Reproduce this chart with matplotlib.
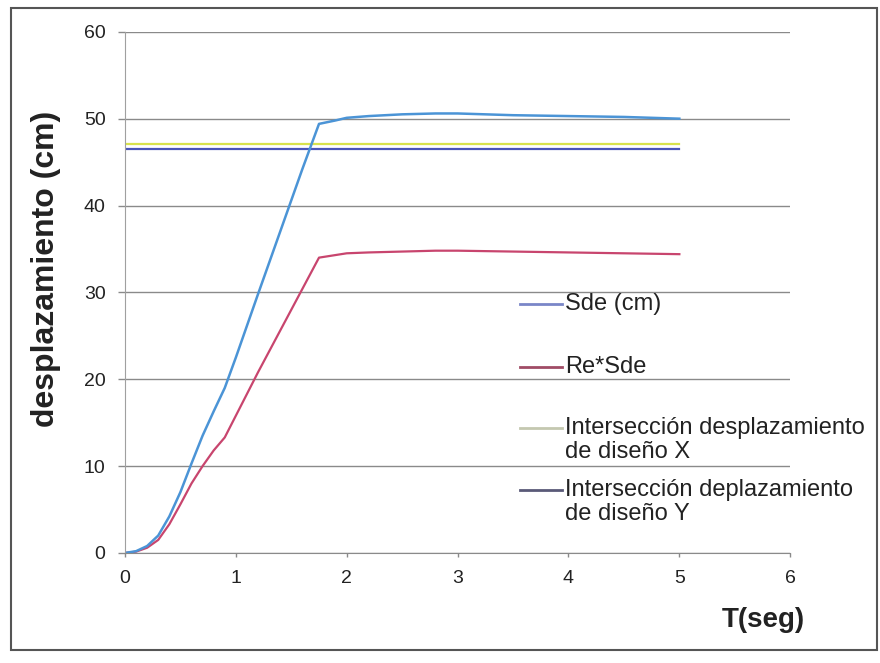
import matplotlib.pyplot as plt
from matplotlib.lines import Line2D
from matplotlib.patches import Rectangle

plt.rcParams['font.family'] = ['Liberation Sans', 'DejaVu Sans']

# periodo T (seg)
T = [0, 0.1, 0.2, 0.3, 0.4, 0.5, 0.6, 0.7, 0.8, 0.9, 1.0, 1.2, 1.4, 1.6, 1.75,
     1.9, 2.0, 2.2, 2.5, 2.8, 3.0, 3.5, 4.0, 4.5, 5.0]
# espectro de desplazamiento elastico Sde (cm)
sde = [0, 0.2, 0.8, 2.0, 4.2, 7.0, 10.3, 13.5, 16.3, 19.0, 22.5, 29.8, 37.0, 44.2, 49.4,
       49.8, 50.1, 50.3, 50.5, 50.6, 50.6, 50.4, 50.3, 50.2, 50.0]
# Re*Sde (cm)
re_sde = [0, 0.15, 0.6, 1.5, 3.3, 5.6, 8.0, 10.0, 11.8, 13.3, 15.8, 20.8, 25.6, 30.4, 34.0,
          34.3, 34.5, 34.6, 34.7, 34.8, 34.8, 34.7, 34.6, 34.5, 34.4]
# desplazamientos de diseno
T_dis = [0, 5]
dis_x = [47.1, 47.1]
dis_y = [46.5, 46.5]

labels = [["Sde (cm)"], ["Re*Sde"],
          ["Intersección desplazamiento", "de diseño X"],
          ["Intersección deplazamiento", "de diseño Y"]]
line_colors = ["#4b94d6", "#c8456e", "#d8e24c", "#4a55b8"]
key_colors = ["#7a86c8", "#a04c66", "#c4c8b0", "#5a5a78"]

fig = plt.figure(figsize=(8.8, 6.63), dpi=100)
ax = fig.add_axes([0.142, 0.166, 0.756, 0.786])

ax.plot(T_dis, dis_x, color=line_colors[2], lw=1.6)
ax.plot(T_dis, dis_y, color=line_colors[3], lw=1.6)
ax.plot(T, re_sde, color=line_colors[1], lw=1.6)
ax.plot(T, sde, color=line_colors[0], lw=1.8)

ax.set_xlim(0, 6)
ax.set_ylim(0, 60)
ax.set_xticks(range(0, 7))
ax.set_yticks(range(0, 61, 10))
ax.yaxis.grid(True, color="#8a8a8a", lw=1.0)
ax.set_axisbelow(True)
for s in ["top", "right"]:
    ax.spines[s].set_visible(False)
ax.spines["left"].set_color("#a0a0a0")
ax.spines["bottom"].set_color("#8a8a8a")
ax.tick_params(axis="both", labelsize=14, colors="#8a8a8a", labelcolor="#222222",
               length=5, width=1)
ax.tick_params(axis="x", length=3, pad=9)
ax.tick_params(axis="y", pad=9)

ax.set_ylabel("desplazamiento (cm)", fontsize=23, fontweight="bold", color="#222222")
ax.yaxis.set_label_coords(-0.096, 0.545)
fig.text(0.915, 0.046, "T(seg)", fontsize=20, fontweight="bold", color="#222222",
         ha="right", va="bottom")

# leyenda a mano (primera linea alineada con la muestra)
key_x0, key_x1, txt_x = 0.591, 0.639, 0.642
key_y = [0.5415, 0.4465, 0.3544, 0.2609]
line_h = 0.0362
for lab, col, y in zip(labels, key_colors, key_y):
    fig.add_artist(Line2D([key_x0, key_x1], [y, y], color=col, lw=2,
                          transform=fig.transFigure))
    for i, txt in enumerate(lab):
        fig.text(txt_x, y - i * line_h, txt, fontsize=17, color="#222222",
                 ha="left", va="center")

# marco del grafico
fig.add_artist(Rectangle((0.012, 0.02), 0.985, 0.968, fill=False,
                         edgecolor="#555555", lw=1.5, transform=fig.transFigure))

fig.savefig("out.png", dpi=100)
